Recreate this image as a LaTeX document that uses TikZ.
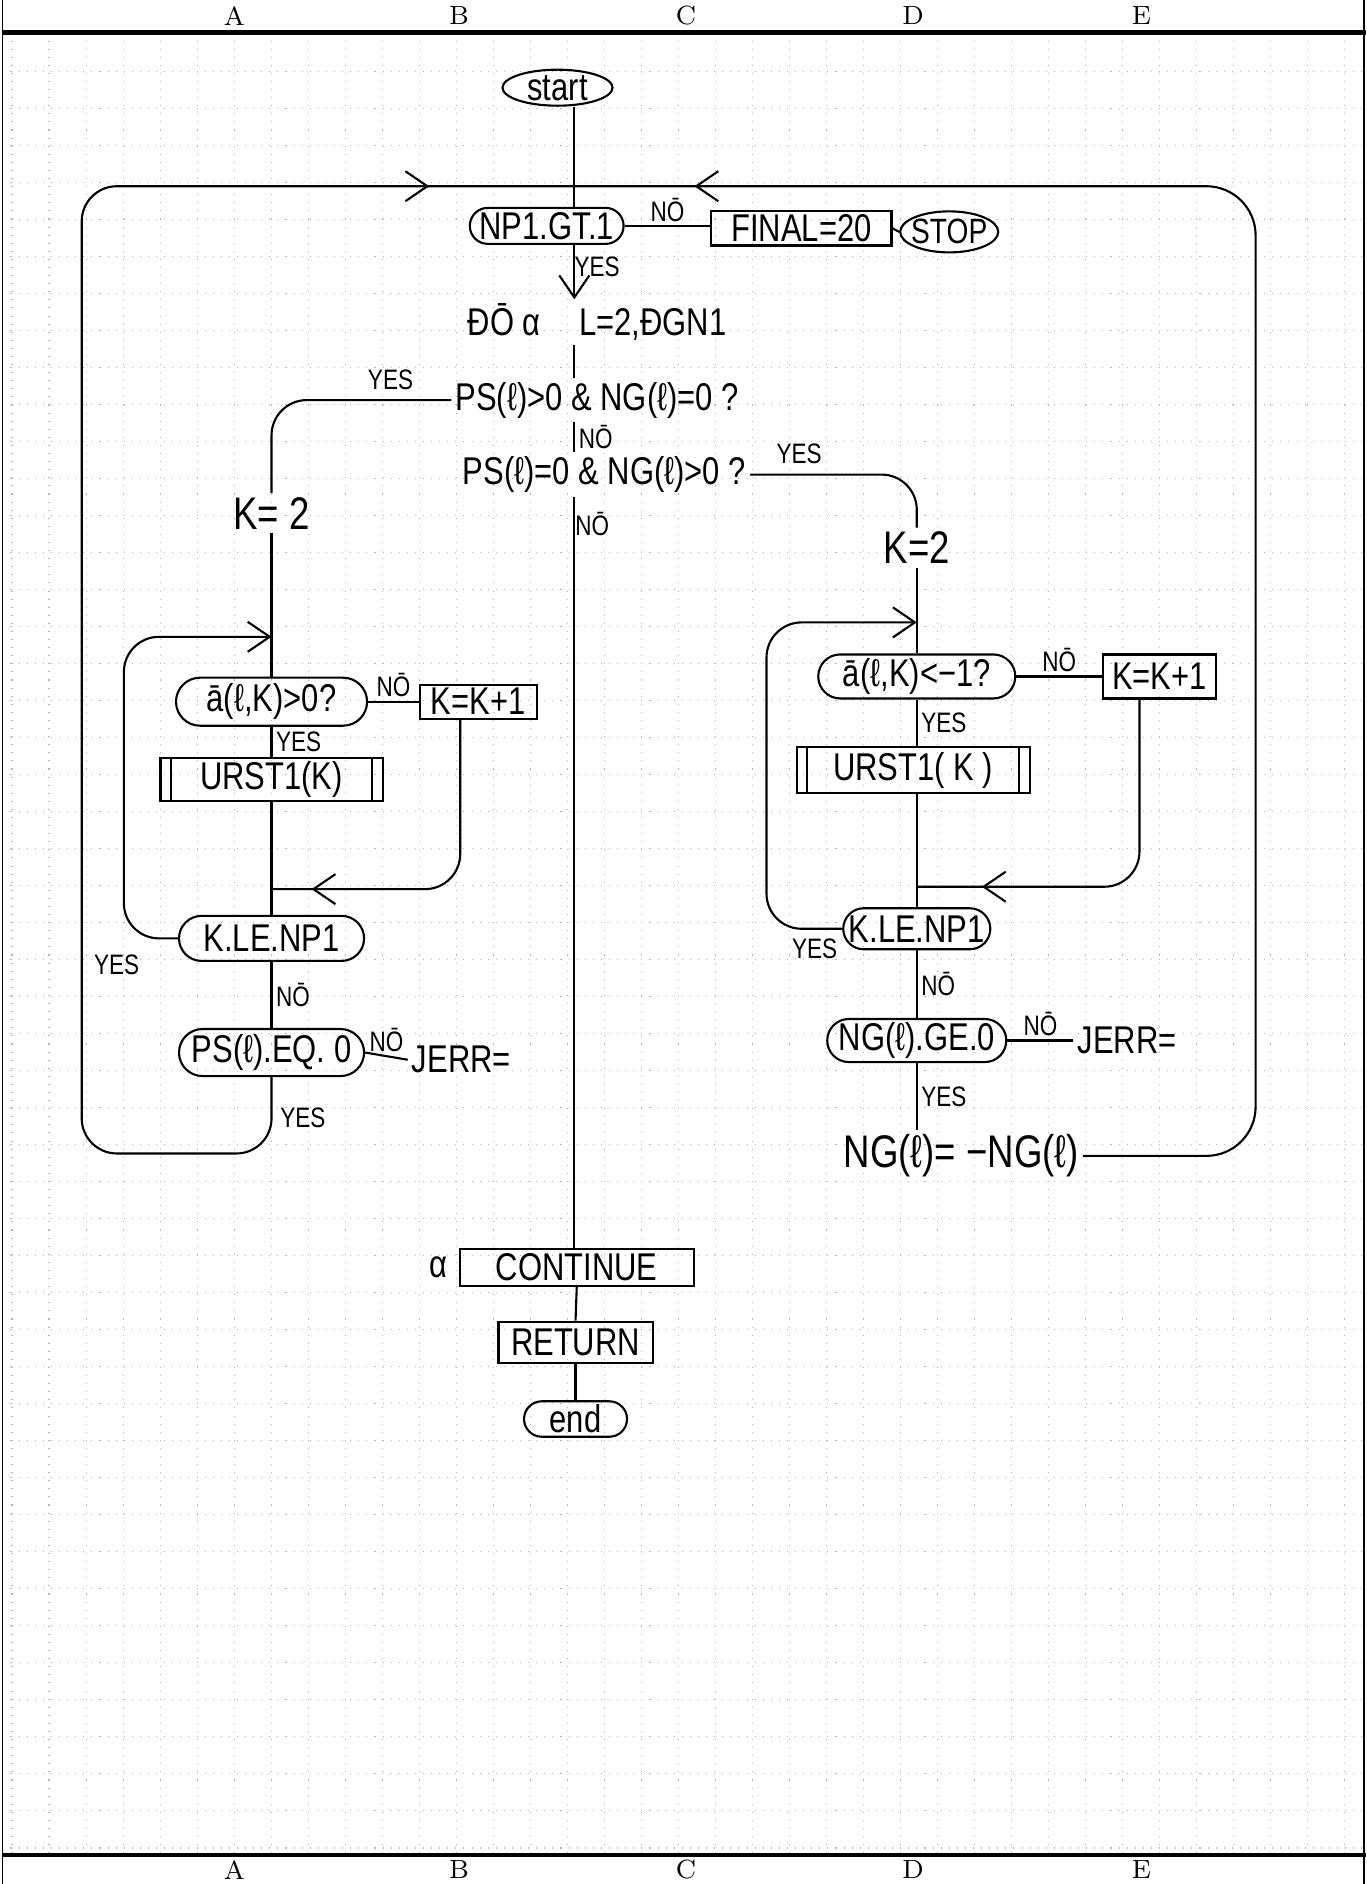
\documentclass[tikz,border=0pt]{standalone}
\usepackage{fontspec}
\usepackage{tikz}
\usetikzlibrary{shapes, arrows.meta, positioning, calc, decorations.markings}
\newfontfamily\hand[FakeStretch=0.8]{Liberation Sans}
\definecolor{GridGray}{HTML}{b4b4b4}

\begin{document}
\begin{tikzpicture}[x=0.012014cm, y=-0.012014cm,
  >={Straight Barb[length=2.2mm, width=3mm]},
  flow/.style={line width=0.6pt},
  midarrow/.style={postaction={decorate}, decoration={markings, mark=at position #1 with {\arrow{>}}}},
  term/.style={draw, ellipse, line width=0.6pt, inner sep=-1pt, font=\hand\fontsize{11}{12}\selectfont},
  test/.style={draw, rounded rectangle, line width=0.6pt, inner sep=1pt, font=\hand\fontsize{11}{12}\selectfont},
  proc/.style={draw, rectangle, line width=0.6pt, inner sep=1pt, font=\hand\fontsize{11}{12}\selectfont},
  subr/.style={proc, path picture={
      \draw ([xshift=3pt]path picture bounding box.north west) -- ([xshift=3pt]path picture bounding box.south west);
      \draw ([xshift=-3pt]path picture bounding box.north east) -- ([xshift=-3pt]path picture bounding box.south east);}},
  txt/.style={inner sep=1pt, font=\hand\fontsize{11}{12}\selectfont},
  bigtxt/.style={inner sep=1pt, font=\hand\fontsize{13}{14}\selectfont},
  lbl/.style={inner sep=1pt, font=\hand\fontsize{8}{9}\selectfont},
  colmark/.style={inner sep=0pt, font=\fontsize{7.5}{8}\selectfont},
  ]
  \useasboundingbox (0,0) rectangle (1137,1568);

  % graph paper
  \foreach \gx in {10,40.8,...,1130}
    \draw[GridGray, dotted, line width=0.3pt] (\gx,27) -- (\gx,1544);
  \foreach \gy in {59.6,90.4,...,1540}
    \draw[GridGray, dotted, line width=0.3pt] (2,\gy) -- (1135,\gy);

  % sheet frame and column marks
  \draw[line width=0.5pt] (2,0) -- (2,1568);
  \draw[line width=0.5pt] (1135,0) -- (1135,1568);
  \draw[line width=1.2pt] (2,27) -- (1137,27);
  \draw[line width=1.2pt] (2,1544) -- (1137,1544);
  \foreach \c/\x in {A/195,B/382,C/571,D/760,E/950} {
    \node[colmark] (top\c) at (\x,13) {\c};
    \node[colmark] (bot\c) at (\x,1556) {\c};
  }

  % main line
  \node[term, minimum width=1.1cm, minimum height=0.36cm] (start) at (464,73) {start};
  \coordinate (jtop) at (478,155);
  \node[test, minimum width=1.48cm, minimum height=0.36cm] (np1) at (455,188) {NP1.GT.1};
  \node[proc, minimum width=1.8cm, minimum height=0.34cm] (final) at (667,190) {FINAL=20};
  \node[term, minimum width=0.98cm, minimum height=0.41cm, font=\hand\fontsize{10}{11}\selectfont] (stop) at (790,193) {STOP};
  \node[txt] (do) at (497,268) {ĐŌ α\quad L=2,ĐGN1};
  \node[txt] (c1) at (497,333) {PS(ℓ)>0 \& NG(ℓ)=0 ?};
  \node[txt] (c2) at (503,395) {PS(ℓ)=0 \& NG(ℓ)>0 ?};

  \draw[flow] (start.south -| jtop) -- (np1.north -| jtop);
  \draw[flow, ->] (np1.south -| jtop) -- (do.north -| jtop);
  \node[lbl] (yes1) at (497,222) {YES};
  \draw[flow] (np1.east) -- (np1.east -| final.west) node[lbl, midway, above] (no1) {NŌ};
  \draw[flow] (final.east) -- (stop.west);
  \draw[flow] (do.south -| jtop) -- (c1.north -| jtop);
  \draw[flow] (c1.south -| jtop) -- (c2.north -| jtop) node[lbl, midway, right] (no2) {NŌ};
  \node[lbl] (no3) at (493,436) {NŌ};

  % left column
  \node[bigtxt] (kL) at (226,427) {K= 2};
  \node[test, minimum width=1.98cm, minimum height=0.48cm] (aL) at (226,584) {ā(ℓ,K)>0?};
  \node[proc, minimum width=1.17cm, minimum height=0.34cm] (kkL) at (398,584) {K=K+1};
  \node[subr, minimum width=2.22cm, minimum height=0.32cm] (urL) at (226,649) {URST1(K)};
  \node[test, minimum width=1.92cm, minimum height=0.45cm] (kleL) at (226,781) {K.LE.NP1};
  \node[test, minimum width=1.92cm, minimum height=0.47cm] (pseL) at (226,876) {PS(ℓ).EQ. 0};
  \node[txt] (jerrL) at (384,882) {JERR=};
  \coordinate (inL) at (226,530);
  \coordinate (backL) at (226,740);

  \draw[flow, rounded corners=10pt] (c1.west) -| (kL.north);
  \node[lbl] (yes2) at (325,316) {YES};
  \draw[flow] (kL.south) -- (aL.north);
  \draw[flow] (aL.east) -- (kkL.west) node[lbl, midway, above] (no4) {NŌ};
  \draw[flow] (aL.south) -- (urL.north) node[lbl, midway, right] (yes3) {YES};
  \draw[flow] (urL.south) -- (kleL.north);
  \draw[flow, rounded corners=10pt, midarrow=-0.4cm] ([xshift=-0.18cm]kkL.south) |- (backL);
  \draw[flow, ->, rounded corners=10pt] (kleL.west) -- ++(-45,0) |- (inL);
  \node[lbl] (yes4) at (97,803) {YES};
  \draw[flow] (kleL.south) -- (pseL.north) node[lbl, midway, right] (no5) {NŌ};
  \draw[flow] (pseL.east) -- (jerrL.west) node[lbl, midway, above] (no6) {NŌ};
  \node[lbl] (yes5) at (252,930) {YES};
  \draw[flow, rounded corners=10pt, midarrow=-1.45cm] (pseL.south) |- (68,960) |- (jtop);

  % right column
  \node[bigtxt] (kR) at (763,456) {K=2};
  \node[test, minimum width=2.04cm, minimum height=0.44cm] (aR) at (763,563) {ā(ℓ,K)<−1?};
  \node[proc, minimum width=1.13cm, minimum height=0.44cm] (kkR) at (965,563) {K=K+1};
  \node[subr, minimum width=2.33cm, minimum height=0.46cm] (urR) at (760,641) {URST1( K )};
  \node[test, minimum width=1.54cm, minimum height=0.41cm] (kleR) at (763,773) {K.LE.NP1};
  \node[test, minimum width=1.86cm, minimum height=0.38cm] (ngeR) at (763,866) {NG(ℓ).GE.0};
  \node[txt] (jerrR) at (938,866) {JERR=};
  \node[bigtxt] (ngneg) at (800,962) {NG(ℓ)= −NG(ℓ)};
  \coordinate (inR) at (763,518);
  \coordinate (backR) at (763,738);

  \draw[flow, rounded corners=10pt] (c2.east) -| (kR.north);
  \node[lbl] (yes6) at (665,378) {YES};
  \draw[flow] (kR.south) -- (aR.north);
  \draw[flow] (aR.east) -- (kkR.west) node[lbl, midway, above] (no7) {NŌ};
  \draw[flow] (aR.south) -- (urR.north -| aR) node[lbl, midway, right] (yes7) {YES};
  \draw[flow] (urR.south -| kleR) -- (kleR.north);
  \draw[flow, rounded corners=10pt, midarrow=-0.65cm] ([xshift=-0.2cm]kkR.south) |- (backR);
  \draw[flow, ->, rounded corners=10pt] (kleR.west) -- ++(-63,0) |- (inR);
  \node[lbl] (yes8) at (678,790) {YES};
  \draw[flow] (kleR.south) -- (ngeR.north) node[lbl, midway, right] (no8) {NŌ};
  \draw[flow] (ngeR.east) -- (jerrR.west) node[lbl, midway, above] (no9) {NŌ};
  \draw[flow] (ngeR.south) -- (ngeR.south |- ngneg.north) node[lbl, midway, right] (yes9) {YES};
  \draw[flow, rounded corners=14pt, midarrow=-1.2cm] (ngneg.east) -- (1045,962) |- (jtop);

  % closing
  \node[proc, minimum width=2.34cm, minimum height=0.37cm] (cont) at (480,1055) {CONTINUE};
  \node[txt, left=2pt of cont] (alpha) {α};
  \node[proc, minimum width=1.54cm, minimum height=0.41cm] (ret) at (479,1117) {RETURN};
  \node[test, minimum width=1.1cm, minimum height=0.32cm] (endn) at (479,1181) {end};
  \draw[flow] (c2.south -| jtop) -- (cont.north -| jtop);
  \draw[flow] (cont.south) -- (ret.north);
  \draw[flow] (ret.south) -- (endn.north);
\end{tikzpicture}
\end{document}
